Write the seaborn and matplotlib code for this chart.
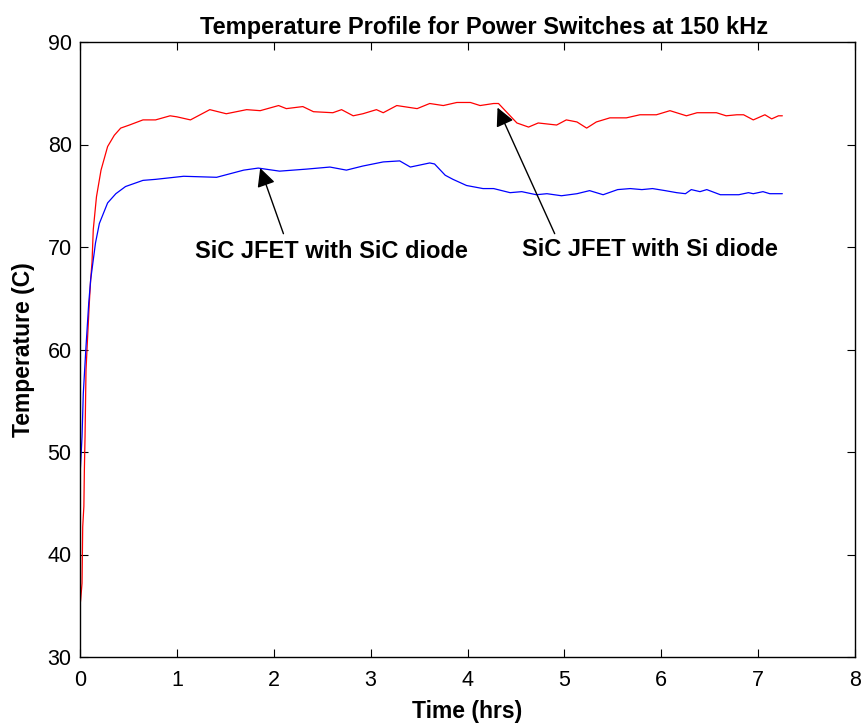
import matplotlib
matplotlib.use("Agg")
import matplotlib.pyplot as plt
import seaborn as sns
import pandas as pd

# ---- data ----
si_time = [0, 0.007, 0.021, 0.028, 0.04, 0.045, 0.052, 0.062, 0.079, 0.096, 0.11, 0.124,
           0.137, 0.17, 0.217, 0.285, 0.354, 0.42, 0.51, 0.65, 0.78, 0.93, 1.0, 1.14, 1.34,
           1.51, 1.72, 1.86, 2.05, 2.13, 2.3, 2.41, 2.61, 2.70, 2.82, 2.92, 3.06, 3.13, 3.27,
           3.48, 3.61, 3.75, 3.89, 4.03, 4.13, 4.27, 4.32, 4.51, 4.63, 4.73, 4.92, 5.02, 5.13,
           5.23, 5.33, 5.47, 5.64, 5.78, 5.95, 6.09, 6.26, 6.37, 6.57, 6.67, 6.78, 6.85, 6.95,
           7.07, 7.14, 7.21, 7.25]
si_temp = [35.0, 35.6, 37.2, 42.7, 44.7, 48.2, 51.5, 58.0, 61.3, 64.5, 66.8, 68.5,
           71.7, 74.9, 77.5, 79.8, 80.9, 81.6, 81.9, 82.4, 82.4, 82.8, 82.7, 82.4, 83.4,
           83.0, 83.4, 83.3, 83.8, 83.5, 83.7, 83.2, 83.1, 83.4, 82.8, 83.0, 83.4, 83.1, 83.8,
           83.5, 84.0, 83.8, 84.1, 84.1, 83.8, 84.0, 84.0, 82.1, 81.7, 82.1, 81.9, 82.4, 82.2,
           81.6, 82.2, 82.6, 82.6, 82.9, 82.9, 83.3, 82.8, 83.1, 83.1, 82.8, 82.9, 82.9, 82.4,
           82.9, 82.5, 82.8, 82.8]

sic_time = [0, 0.003, 0.021, 0.034, 0.062, 0.09, 0.11, 0.16, 0.2, 0.285, 0.37, 0.47, 0.65,
            0.78, 1.07, 1.41, 1.69, 1.84, 2.06, 2.34, 2.58, 2.75, 2.92, 3.13, 3.30, 3.41,
            3.61, 3.66, 3.72, 3.77, 3.85, 3.99, 4.16, 4.27, 4.44, 4.56, 4.71, 4.82, 4.97,
            5.13, 5.26, 5.40, 5.55, 5.68, 5.80, 5.91, 6.04, 6.16, 6.25, 6.31, 6.40, 6.47,
            6.61, 6.80, 6.90, 6.95, 7.05, 7.12, 7.25]
sic_temp = [43.5, 48.2, 51.5, 55.7, 60.3, 64.5, 66.8, 70.4, 72.3, 74.3, 75.2, 75.9, 76.5,
            76.6, 76.9, 76.8, 77.5, 77.7, 77.4, 77.6, 77.8, 77.5, 77.9, 78.3, 78.4, 77.8,
            78.2, 78.1, 77.5, 77.0, 76.6, 76.0, 75.7, 75.7, 75.3, 75.4, 75.1, 75.2, 75.0,
            75.2, 75.5, 75.1, 75.6, 75.7, 75.6, 75.7, 75.5, 75.3, 75.2, 75.6, 75.4, 75.6,
            75.1, 75.1, 75.3, 75.2, 75.4, 75.2, 75.2]

x_ticks = [0, 1, 2, 3, 4, 5, 6, 7, 8]
y_ticks = [30, 40, 50, 60, 70, 80, 90]

title = "Temperature Profile for Power Switches at 150 kHz"
xlabel = "Time (hrs)"
ylabel = "Temperature (C)"
label_sic = "SiC JFET with SiC diode"
label_si = "SiC JFET with Si diode"

# ---- style ----
sns.set_style("ticks")
plt.rcParams['font.family'] = ['Liberation Sans', 'DejaVu Sans']
plt.rcParams['text.color'] = 'black'
plt.rcParams['axes.labelcolor'] = 'black'

fig = plt.figure(figsize=(8.67, 7.24), dpi=100)
ax = fig.add_axes([80/867, 1 - 657/724, 775/867, 615/724])

df_si = pd.DataFrame({"t": si_time, "T": si_temp})
df_sic = pd.DataFrame({"t": sic_time, "T": sic_temp})

sns.lineplot(data=df_si, x="t", y="T", color="#ff0000", linewidth=0.9,
             estimator=None, sort=False, ax=ax)
sns.lineplot(data=df_sic, x="t", y="T", color="#0000ff", linewidth=0.9,
             estimator=None, sort=False, ax=ax)

ax.set_xlim(0, 8)
ax.set_ylim(30, 90)
ax.set_xticks(x_ticks)
ax.set_yticks(y_ticks)
ax.tick_params(direction="in", length=6, width=0.8, top=True, right=True,
               labelsize=15.5, colors="black")
ax.tick_params(axis="x", pad=9)
ax.tick_params(axis="y", pad=6)
for s in ax.spines.values():
    s.set_visible(True)
    s.set_linewidth(1.0)
    s.set_color("black")

ax.set_title(title, fontsize=17, fontweight="bold", pad=6, color="black", x=0.522)
ax.set_xlabel(xlabel, fontsize=16.5, fontweight="bold", labelpad=7)
ax.set_ylabel(ylabel, fontsize=16.5, fontweight="bold", labelpad=9)

arrow = dict(arrowstyle="-|>", color="black", lw=1.0, mutation_scale=28,
             shrinkA=0, shrinkB=0)
ax.annotate("", xy=(1.86, 77.7), xytext=(2.1, 71.3), arrowprops=arrow)
ax.annotate("", xy=(4.31, 83.6), xytext=(4.9, 71.3), arrowprops=arrow)
ax.text(2.6, 69.6, label_sic, fontsize=17, fontweight="bold", ha="center", va="center",
        color="black")
ax.text(5.88, 69.8, label_si, fontsize=17, fontweight="bold", ha="center", va="center",
        color="black")

fig.savefig("out.png", dpi=100, facecolor="white")
